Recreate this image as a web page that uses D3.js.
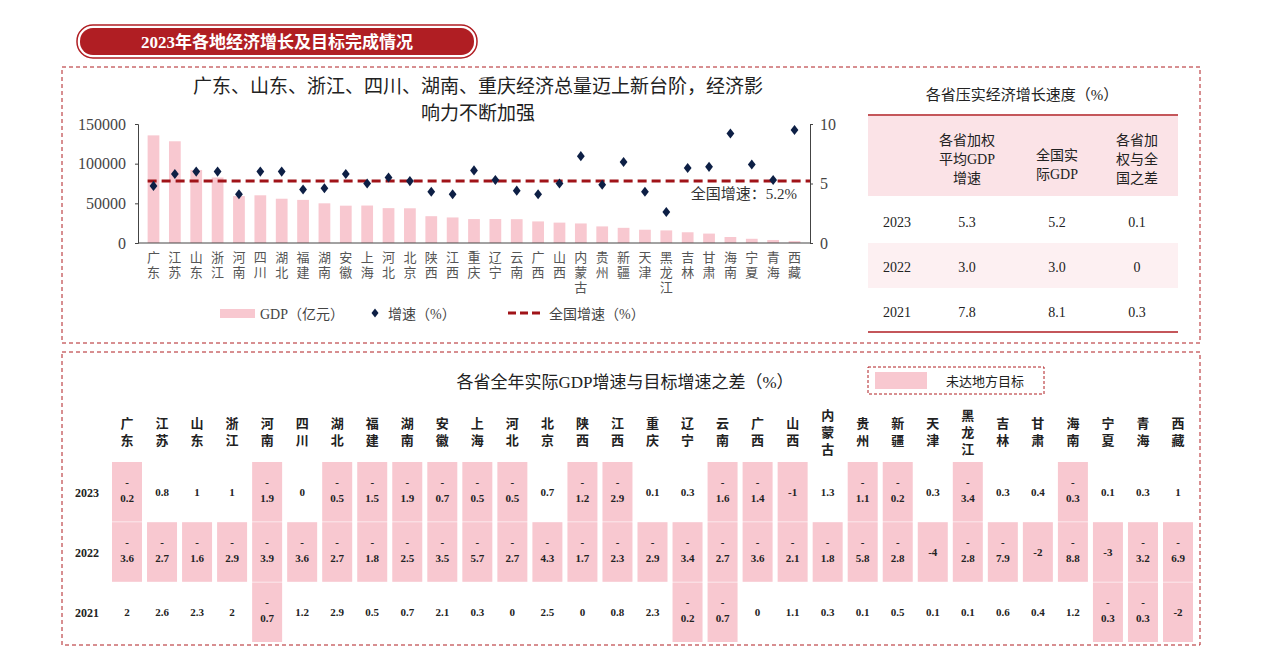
<!DOCTYPE html>
<html><head><meta charset="utf-8">
<script src="https://cdn.jsdelivr.net/npm/d3@7"></script>
<style>
body{margin:0;background:#fff;font-family:"Noto Serif CJK SC","Noto Sans CJK SC",serif;}
text{font-family:"Liberation Serif","Noto Sans CJK SC",serif;}
</style></head><body>
<svg id="c" width="1263" height="663"></svg>
<script>
const provinces = ["广东","江苏","山东","浙江","河南","四川","湖北","福建","湖南","安徽","上海","河北","北京","陕西","江西","重庆","辽宁","云南","广西","山西","内蒙古","贵州","新疆","天津","黑龙江","吉林","甘肃","海南","宁夏","青海","西藏"];
const gdp = [135673,128222,92069,82553,59132,60133,55804,54355,50013,47051,47219,43944,43761,33786,32200,30146,30209,30021,27202,25698,24627,20913,19126,16737,15884,13531,11864,7551,5315,3799,2393];
const growth = [4.8,5.8,6.0,6.0,4.1,6.0,6.0,4.5,4.6,5.8,5.0,5.5,5.2,4.3,4.1,6.1,5.3,4.4,4.1,5.0,7.3,4.9,6.8,4.3,2.6,6.3,6.4,9.2,6.6,5.3,9.5];
const nationalGrowth = 5.2;
const leftTicks = [0,50000,100000,150000];
const rightTicks = [0,5,10];

const summaryYears = ["2023","2022","2021"];
const weightedAvg = ["5.3","3.0","7.8"];
const nationalGdp = ["5.2","3.0","8.1"];
const diffCol = ["0.1","0","0.3"];

const tableYears = ["2023","2022","2021"];
const gap2023 = [-0.2,0.8,1,1,-1.9,0,-0.5,-1.5,-1.9,-0.7,-0.5,-0.5,0.7,-1.2,-2.9,0.1,0.3,-1.6,-1.4,-1,1.3,-1.1,-0.2,0.3,-3.4,0.3,0.4,-0.3,0.1,0.3,1];
const gap2022 = [-3.6,-2.7,-1.6,-2.9,-3.9,-3.6,-2.7,-1.8,-2.5,-3.5,-5.7,-2.7,-4.3,-1.7,-2.3,-2.9,-3.4,-2.7,-3.6,-2.1,-1.8,-5.8,-2.8,-4,-2.8,-7.9,-2,-8.8,-3,-3.2,-6.9];
const gap2021 = [2,2.6,2.3,2,-0.7,1.2,2.9,0.5,0.7,2.1,0.3,0,2.5,0,0.8,2.3,-0.2,-0.7,0,1.1,0.3,0.1,0.5,0.1,0.1,0.6,0.4,1.2,-0.3,-0.3,-2];

const svg = d3.select("#c");
const RED = "#b01e23", PINK = "#f8c8d0", NAVY = "#0d1f45";

// banner
svg.append("rect").attr("x",77).attr("y",25).attr("width",400).attr("height",33).attr("rx",16).attr("fill","#fff").attr("stroke",RED).attr("stroke-width",1.5);
svg.append("rect").attr("x",80).attr("y",28).attr("width",394).attr("height",27).attr("rx",13).attr("fill",RED);
svg.append("text").attr("x",277).attr("y",48).attr("text-anchor","middle").attr("fill","#fff").attr("font-size",17).attr("font-weight","bold").text("2023年各地经济增长及目标完成情况");

// dashed boxes
[[62,67,1138,276],[62,352,1138,293]].forEach(b=>svg.append("rect").attr("x",b[0]).attr("y",b[1]).attr("width",b[2]).attr("height",b[3]).attr("fill","none").attr("stroke",RED).attr("stroke-dasharray","4,3").attr("stroke-width",1));

// ---- bar chart
svg.append("text").attr("x",478).attr("y",93).attr("text-anchor","middle").attr("font-size",19).attr("fill","#222").text("广东、山东、浙江、四川、湖南、重庆经济总量迈上新台阶，经济影");
svg.append("text").attr("x",478).attr("y",120).attr("text-anchor","middle").attr("font-size",19).attr("fill","#222").text("响力不断加强");

const x = d3.scaleBand().domain(provinces).range([138,810]).padding(0.45);
const yL = d3.scaleLinear().domain([0,150000]).range([243,124]);
const yR = d3.scaleLinear().domain([0,10]).range([243,124]);
const g = svg.append("g");
g.selectAll("rect.bar").data(provinces).join("rect").attr("class","bar")
  .attr("x",d=>x(d)).attr("width",x.bandwidth())
  .attr("y",(d,i)=>yL(gdp[i])).attr("height",(d,i)=>yL(0)-yL(gdp[i])).attr("fill",PINK);
g.append("line").attr("x1",x(provinces[0])).attr("x2",810).attr("y1",yR(nationalGrowth)).attr("y2",yR(nationalGrowth))
  .attr("stroke","#a01318").attr("stroke-width",3).attr("stroke-dasharray","9,5");
g.selectAll("path.dia").data(provinces).join("path").attr("class","dia")
  .attr("d",d3.symbol(d3.symbolSquare,42))
  .attr("transform",(d,i)=>`translate(${x(d)+x.bandwidth()/2},${yR(growth[i])}) scale(0.85,1.1) rotate(45)`).attr("fill",NAVY);
const ax = g.append("g").attr("transform","translate(138,0)").call(d3.axisLeft(yL).tickValues(leftTicks).tickSize(3).tickFormat(d3.format("d")));
const ax2 = g.append("g").attr("transform","translate(810,0)").call(d3.axisRight(yR).tickValues(rightTicks).tickSize(3));
g.append("line").attr("x1",138).attr("x2",810).attr("y1",243).attr("y2",243).attr("stroke","#444");
[ax,ax2].forEach(a=>{a.selectAll("text").attr("font-size",16).attr("fill","#444");a.selectAll("line,path").attr("stroke","#444");});
ax.selectAll("text").attr("dx",-6);
ax2.selectAll("text").attr("dx",4);
g.append("text").attr("x",797).attr("y",199).attr("text-anchor","end").attr("font-size",15).attr("fill","#333").text("全国增速：5.2%");
provinces.forEach((p,i)=>{
  [...p].forEach((ch,k)=>g.append("text").attr("x",x(p)+x.bandwidth()/2).attr("y",262+k*15).attr("text-anchor","middle").attr("font-size",13).attr("fill","#555").text(ch));
});
// legend
svg.append("rect").attr("x",220).attr("y",309).attr("width",35).attr("height",9).attr("fill",PINK);
svg.append("text").attr("x",260).attr("y",319).attr("font-size",14).attr("fill","#444").text("GDP（亿元）");
svg.append("path").attr("d",d3.symbol(d3.symbolSquare,34)).attr("transform","translate(375,313) scale(0.85,1.1) rotate(45)").attr("fill",NAVY);
svg.append("text").attr("x",388).attr("y",319).attr("font-size",14).attr("fill","#444").text("增速（%）");
svg.append("line").attr("x1",508).attr("x2",544).attr("y1",313).attr("y2",313).attr("stroke","#a01318").attr("stroke-width",3).attr("stroke-dasharray","8,4");
svg.append("text").attr("x",549).attr("y",319).attr("font-size",14).attr("fill","#444").text("全国增速（%）");

// ---- summary table
svg.append("text").attr("x",1022).attr("y",100).attr("text-anchor","middle").attr("font-size",15).attr("fill","#222").text("各省压实经济增长速度（%）");
svg.append("rect").attr("x",868).attr("y",116).attr("width",310).attr("height",80).attr("fill","#fbe3e7");
svg.append("rect").attr("x",868).attr("y",243).attr("width",310).attr("height",45).attr("fill","#fdf0f2");
[115,332].forEach(yy=>svg.append("line").attr("x1",868).attr("x2",1178).attr("y1",yy).attr("y2",yy).attr("stroke",RED).attr("stroke-width",1.5));
const hdr = [[967,["各省加权","平均GDP","增速"]],[1057,["全国实","际GDP"]],[1137,["各省加","权与全","国之差"]]];
hdr.forEach(h=>h[1].forEach((t,k)=>svg.append("text").attr("x",h[0]).attr("y",(h[1].length==2?160:145)+k*19).attr("text-anchor","middle").attr("font-size",14).attr("fill","#222").text(t)));
const sx = d3.scalePoint().domain(summaryYears).range([222,312]);
summaryYears.forEach((yr,i)=>{
  [[897,yr],[967,weightedAvg[i]],[1057,nationalGdp[i]],[1137,diffCol[i]]].forEach(c=>
    svg.append("text").attr("x",c[0]).attr("y",sx(yr)+5).attr("text-anchor","middle").attr("font-size",14).attr("fill","#222").text(c[1]));
});

// ---- gap table
svg.append("text").attr("x",625).attr("y",388).attr("text-anchor","middle").attr("font-size",17).attr("fill","#222").text("各省全年实际GDP增速与目标增速之差（%）");
svg.append("rect").attr("x",868).attr("y",367).attr("width",176).attr("height",27).attr("fill","#fff").attr("stroke",RED).attr("stroke-dasharray","3,2");
svg.append("rect").attr("x",875).attr("y",372).attr("width",52).attr("height",17).attr("fill",PINK);
svg.append("text").attr("x",985).attr("y",386).attr("text-anchor","middle").attr("font-size",13).attr("fill","#222").text("未达地方目标");
const cx = d3.scalePoint().domain(provinces).range([127,1178]);
const ry = d3.scaleBand().domain(tableYears).range([462,642]).paddingInner(0.01);
const rows = [gap2023,gap2022,gap2021];
provinces.forEach(p=>[...p].forEach((ch,k)=>svg.append("text").attr("x",cx(p)).attr("y",(p.length==3?420:428)+k*17).attr("text-anchor","middle").attr("font-size",13).attr("font-weight","bold").attr("fill","#222").text(ch)));
tableYears.forEach((yr,r)=>{
  svg.append("text").attr("x",87).attr("y",ry(yr)+ry.bandwidth()/2+5).attr("text-anchor","middle").attr("font-size",12).attr("font-weight","bold").attr("fill","#222").text(yr);
  provinces.forEach((p,i)=>{
    const v = rows[r][i], cy = ry(yr)+ry.bandwidth()/2;
    if (v<0) svg.append("rect").attr("x",cx(p)-15).attr("y",ry(yr)).attr("width",30).attr("height",ry.bandwidth()).attr("fill",PINK);
    const s = String(Math.abs(v));
    const t = svg.append("text").attr("text-anchor","middle").attr("font-size",11).attr("font-weight","bold").attr("fill","#222");
    if (v<0 && s.includes(".")) {
      t.append("tspan").attr("x",cx(p)).attr("y",cy-6).text("-");
      t.append("tspan").attr("x",cx(p)).attr("y",cy+10).text(s);
    } else t.attr("x",cx(p)).attr("y",cy+4).text(String(v));
  });
});
</script></body></html>
